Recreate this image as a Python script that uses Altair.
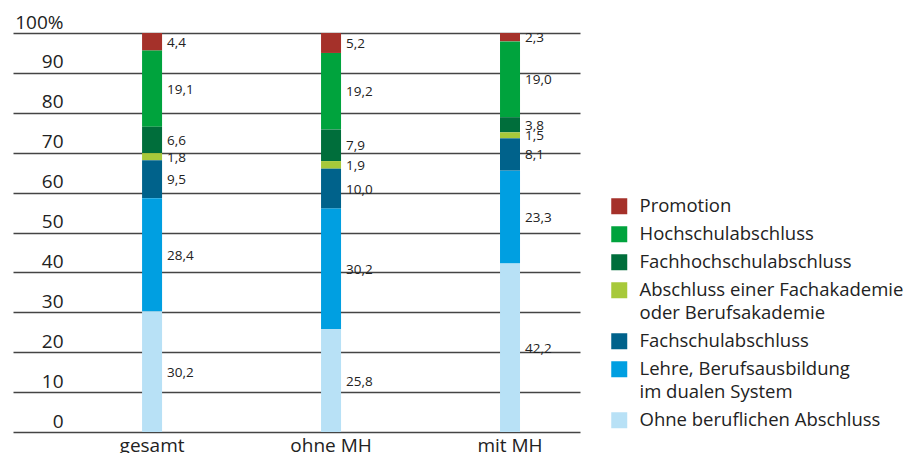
import altair as alt
import pandas as pd

groups = ["gesamt", "ohne MH", "mit MH"]
categories = [
    "Promotion",
    "Hochschulabschluss",
    "Fachhochschulabschluss",
    "Abschluss einer Fachakademie\noder Berufsakademie",
    "Fachschulabschluss",
    "Lehre, Berufsausbildung\nim dualen System",
    "Ohne beruflichen Abschluss",
]
colors = ["#a5312a", "#00a33d", "#006e3b", "#a7c93a", "#00628b", "#009fe1", "#b8e1f6"]

# values per group, in the order of `categories`
v_gesamt = [4.4, 19.1, 6.6, 1.8, 9.5, 28.4, 30.2]
v_ohne = [5.2, 19.2, 7.9, 1.9, 10.0, 30.2, 25.8]
v_mit = [2.3, 19.0, 3.8, 1.5, 8.1, 23.3, 42.2]

y_ticks = list(range(0, 101, 10))

rows = []
for g, vals in zip(groups, [v_gesamt, v_ohne, v_mit]):
    for i, (c, v) in enumerate(zip(categories, vals)):
        rows.append({"group": g, "cat": c, "value": v, "order": len(categories) - i,
                     "label": f"{v:.1f}".replace(".", ",")})
df = pd.DataFrame(rows)

FONT = "Open Sans"

base = alt.Chart(df).transform_stack(
    stack="value", groupby=["group"], as_=["y0", "y1"],
    sort=[alt.SortField("order", order="ascending")],
).transform_calculate(mid="(datum.y0 + datum.y1) / 2")

xscale = alt.Scale(paddingInner=0.218, paddingOuter=0.193, align=1)
xaxis = alt.Axis(labelAngle=0, ticks=False, domain=False, labelFontSize=19,
                 labelFont=FONT, labelColor="#222", labelPadding=4)
yscale = alt.Scale(domain=[0, 100], nice=False)
yaxis = alt.Axis(values=y_ticks, grid=True, gridColor="#444444",
                 gridWidth=1.3, domain=False, ticks=False, labelAlign="right",
                 labelPadding=-50, labelBaseline="alphabetic", labelOffset=-5,
                 labelOverlap=False, labelBound=False,
                 labelFontSize=19, labelFont=FONT, labelColor="#222",
                 labelExpr="datum.value == 100 ? '100%' : datum.label")

legend = alt.Legend(
    title=None, orient="none", legendX=597, legendY=164,
    symbolType="square", symbolSize=256, symbolStrokeWidth=0,
    labelFontSize=18.5, labelFont=FONT, labelColor="#222",
    labelLimit=400, rowPadding=9, labelOffset=11,
    labelExpr="split(datum.label, '\\n')",
)

bars = base.mark_bar(size=20, clip=True).encode(
    x=alt.X("group:N", sort=groups, title=None, scale=xscale, axis=xaxis),
    y=alt.Y("y0:Q", title=None, scale=yscale, axis=yaxis),
    y2="y1:Q",
    color=alt.Color("cat:N", scale=alt.Scale(domain=categories, range=colors), legend=legend),
)

texts = base.mark_text(align="left", baseline="middle", dx=15, dy=1, fontSize=13.5,
                       font=FONT, color="#222").encode(
    x=alt.X("group:N", sort=groups, title=None, scale=xscale, axis=xaxis),
    y=alt.Y("mid:Q", title=None, scale=yscale, axis=yaxis),
    text="label:N",
)

chart = alt.layer(bars, texts).properties(
    width=567, height=399,
    autosize=alt.AutoSizeParams(type="none"),
    padding={"left": 5, "top": 25, "right": 331, "bottom": 21},
).configure(style={"guide-label": {"lineHeight": 23}}).configure_view(stroke=None)

chart.save("out.html", embed_options={"renderer": "svg", "actions": False})
